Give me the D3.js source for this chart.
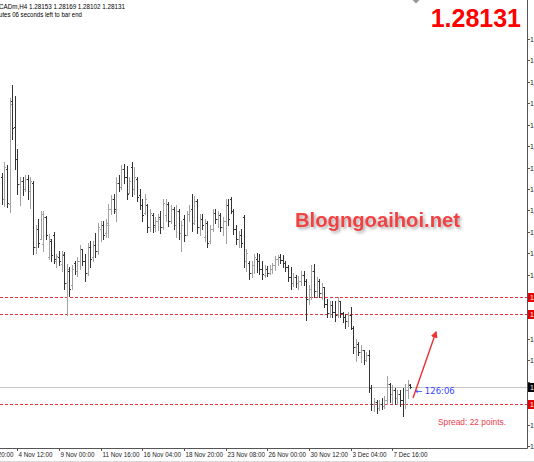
<!DOCTYPE html>
<html>
<head>
<meta charset="utf-8">
<script src="https://cdn.jsdelivr.net/npm/d3@7"></script>
<style>
  html, body { margin: 0; padding: 0; background: #fff; overflow: hidden; }
  svg { display: block; font-family: "Liberation Sans", Arial, sans-serif; }
</style>
</head>
<body>
<div id="chart"></div>
<script>
// H4 bars, oldest first (3 Nov 12:00 ... 8 Dec)
const opens = [
  1.3205, 1.3163, 1.3220, 1.3154, 1.3347, 1.3298, 1.3238, 1.3191, 1.3197, 1.3182,
  1.3201, 1.3178, 1.3193, 1.3073, 1.3107, 1.3088, 1.3079, 1.3130, 1.3055, 1.3085,
  1.3096, 1.3047, 1.3055, 1.3041, 1.3058, 1.3006, 1.3028, 1.3002, 1.3043, 1.3028,
  1.3047, 1.3070, 1.3047, 1.3025, 1.3073, 1.3055, 1.3077, 1.3066, 1.3107, 1.3115,
  1.3100, 1.3115, 1.3145, 1.3163, 1.3141, 1.3193, 1.3186, 1.3220, 1.3205, 1.3175,
  1.3223, 1.3182, 1.3201, 1.3171, 1.3152, 1.3137, 1.3152, 1.3111, 1.3133, 1.3111,
  1.3122, 1.3130, 1.3111, 1.3133, 1.3154, 1.3122, 1.3145, 1.3115, 1.3141, 1.3100,
  1.3126, 1.3096, 1.3135, 1.3145, 1.3118, 1.3160, 1.3111, 1.3126, 1.3092, 1.3118,
  1.3085, 1.3107, 1.3137, 1.3126, 1.3133, 1.3111, 1.3122, 1.3152, 1.3163, 1.3141,
  1.3107, 1.3088, 1.3096, 1.3130, 1.3047, 1.3043, 1.3025, 1.3040, 1.3051, 1.3047,
  1.3032, 1.3021, 1.3032, 1.3025, 1.3032, 1.3040, 1.3051, 1.3055, 1.3049, 1.3043,
  1.3036, 1.3017, 1.3006, 1.3017, 1.3006, 1.3010, 1.3021, 1.3010, 1.2976, 1.2995,
  1.3028, 1.2991, 1.3010, 1.2987, 1.2998, 1.2968, 1.2950, 1.2965, 1.2953, 1.2946,
  1.2972, 1.2950, 1.2942, 1.2935, 1.2946, 1.2923, 1.2886, 1.2892, 1.2878, 1.2882,
  1.2863, 1.2871, 1.2811, 1.2781, 1.2785, 1.2773, 1.2781, 1.2777, 1.2788, 1.2818,
  1.2800, 1.2807, 1.2792, 1.2800, 1.2788, 1.2781, 1.2807, 1.28153
];
const highs = [
  1.3212, 1.3233, 1.3227, 1.3351, 1.3377, 1.3356, 1.3257, 1.3205, 1.3205, 1.3208,
  1.3208, 1.3205, 1.3197, 1.3115, 1.3126, 1.3141, 1.3141, 1.3131, 1.3098, 1.3088,
  1.3101, 1.3060, 1.3066, 1.3066, 1.3064, 1.3041, 1.3036, 1.3040, 1.3047, 1.3055,
  1.3077, 1.3070, 1.3060, 1.3081, 1.3085, 1.3085, 1.3100, 1.3118, 1.3122, 1.3122,
  1.3126, 1.3154, 1.3171, 1.3173, 1.3205, 1.3208, 1.3227, 1.3229, 1.3225, 1.3205,
  1.3233, 1.3223, 1.3205, 1.3182, 1.3163, 1.3173, 1.3154, 1.3145, 1.3137, 1.3130,
  1.3135, 1.3141, 1.3163, 1.3163, 1.3158, 1.3152, 1.3148, 1.3152, 1.3145, 1.3122,
  1.3133, 1.3141, 1.3152, 1.3173, 1.3169, 1.3163, 1.3135, 1.3135, 1.3126, 1.3122,
  1.3115, 1.3145, 1.3145, 1.3141, 1.3137, 1.3130, 1.3163, 1.3163, 1.3167, 1.3145,
  1.3115, 1.3103, 1.3107, 1.3133, 1.3070, 1.3047, 1.3047, 1.3060, 1.3062, 1.3060,
  1.3047, 1.3040, 1.3038, 1.3040, 1.3043, 1.3056, 1.3058, 1.3060, 1.3058, 1.3047,
  1.3040, 1.3036, 1.3025, 1.3021, 1.3019, 1.3028, 1.3028, 1.3013, 1.3002, 1.3040,
  1.3041, 1.3017, 1.3013, 1.3006, 1.2998, 1.2976, 1.2972, 1.2972, 1.2972, 1.2980,
  1.2972, 1.2953, 1.2948, 1.2953, 1.2961, 1.2927, 1.2901, 1.2897, 1.2890, 1.2882,
  1.2878, 1.2882, 1.2815, 1.2792, 1.2788, 1.2788, 1.2792, 1.2796, 1.2833, 1.2820,
  1.2815, 1.2811, 1.2807, 1.2807, 1.2811, 1.2818, 1.2826, 1.28169
];
const lows = [
  1.3154, 1.3150, 1.3148, 1.3139, 1.3276, 1.3220, 1.3173, 1.3152, 1.3171, 1.3178,
  1.3163, 1.3146, 1.3060, 1.3062, 1.3073, 1.3088, 1.3066, 1.3088, 1.3051, 1.3047,
  1.3043, 1.3036, 1.3040, 1.3028, 1.2995, 1.2946, 1.2983, 1.2995, 1.3023, 1.3019,
  1.3032, 1.3040, 1.3010, 1.3021, 1.3036, 1.3047, 1.3055, 1.3060, 1.3085, 1.3088,
  1.3092, 1.3092, 1.3135, 1.3137, 1.3122, 1.3178, 1.3182, 1.3193, 1.3163, 1.3175,
  1.3169, 1.3173, 1.3160, 1.3145, 1.3122, 1.3135, 1.3101, 1.3103, 1.3101, 1.3103,
  1.3105, 1.3100, 1.3107, 1.3122, 1.3113, 1.3118, 1.3107, 1.3092, 1.3088, 1.3066,
  1.3085, 1.3096, 1.3122, 1.3103, 1.3116, 1.3100, 1.3096, 1.3107, 1.3085, 1.3073,
  1.3081, 1.3103, 1.3118, 1.3111, 1.3103, 1.3096, 1.3081, 1.3115, 1.3137, 1.3098,
  1.3079, 1.3073, 1.3073, 1.3036, 1.3028, 1.3013, 1.3017, 1.3025, 1.3026, 1.3023,
  1.3013, 1.3017, 1.3019, 1.3023, 1.3025, 1.3030, 1.3040, 1.3043, 1.3036, 1.3028,
  1.3010, 1.2995, 1.3000, 1.2998, 1.2995, 1.3002, 1.3002, 1.2938, 1.2968, 1.2976,
  1.2980, 1.2983, 1.2980, 1.2976, 1.2961, 1.2942, 1.2942, 1.2942, 1.2935, 1.2942,
  1.2942, 1.2933, 1.2923, 1.2927, 1.2920, 1.2875, 1.2860, 1.2871, 1.2858, 1.2856,
  1.2860, 1.2803, 1.2770, 1.2768, 1.2764, 1.2770, 1.2771, 1.2773, 1.2781, 1.2785,
  1.2783, 1.2781, 1.2781, 1.2777, 1.2758, 1.2773, 1.2792, 1.28102
];
const closes = [
  1.3163, 1.3223, 1.3156, 1.3341, 1.3295, 1.3238, 1.3191, 1.3197, 1.3182, 1.3201,
  1.3178, 1.3197, 1.3073, 1.3107, 1.3081, 1.3135, 1.3130, 1.3096, 1.3088, 1.3058,
  1.3051, 1.3056, 1.3047, 1.3060, 1.3006, 1.3032, 1.2995, 1.3032, 1.3028, 1.3047,
  1.3070, 1.3047, 1.3025, 1.3073, 1.3051, 1.3077, 1.3066, 1.3111, 1.3115, 1.3096,
  1.3118, 1.3145, 1.3163, 1.3145, 1.3193, 1.3186, 1.3220, 1.3205, 1.3173, 1.3197,
  1.3182, 1.3205, 1.3167, 1.3152, 1.3133, 1.3163, 1.3111, 1.3137, 1.3115, 1.3122,
  1.3126, 1.3111, 1.3156, 1.3154, 1.3122, 1.3145, 1.3115, 1.3141, 1.3100, 1.3115,
  1.3096, 1.3135, 1.3141, 1.3118, 1.3160, 1.3111, 1.3126, 1.3115, 1.3118, 1.3081,
  1.3107, 1.3137, 1.3126, 1.3133, 1.3111, 1.3122, 1.3152, 1.3126, 1.3141, 1.3107,
  1.3088, 1.3096, 1.3081, 1.3047, 1.3062, 1.3025, 1.3040, 1.3055, 1.3047, 1.3032,
  1.3023, 1.3032, 1.3025, 1.3032, 1.3040, 1.3051, 1.3055, 1.3049, 1.3043, 1.3036,
  1.3017, 1.3006, 1.3017, 1.3006, 1.3010, 1.3021, 1.3010, 1.2976, 1.2995, 1.3028,
  1.2991, 1.3010, 1.2987, 1.2998, 1.2968, 1.2950, 1.2965, 1.2953, 1.2946, 1.2972,
  1.2950, 1.2942, 1.2935, 1.2946, 1.2923, 1.2886, 1.2892, 1.2878, 1.2882, 1.2863,
  1.2871, 1.2811, 1.2781, 1.2785, 1.2773, 1.2781, 1.2777, 1.2788, 1.2818, 1.2800,
  1.2807, 1.2792, 1.2800, 1.2788, 1.2781, 1.2807, 1.2818, 1.28131
];

// time axis: bar index of each label
const timeTicks = [-10, 6, 22, 38, 54, 70, 86, 102, 118, 134, 150];
const timeLabels = ['30 Oct 20:00', '4 Nov 12:00', '9 Nov 00:00', '11 Nov 16:00', '16 Nov 04:00',
  '18 Nov 20:00', '23 Nov 08:00', '26 Nov 00:00', '30 Nov 12:00', '3 Dec 04:00', '7 Dec 16:00'];

const priceTicks = [1.2702, 1.2742, 1.2782, 1.2822, 1.2862, 1.2902, 1.2942, 1.2982, 1.3022, 1.3062,
  1.3102, 1.3142, 1.3182, 1.3222, 1.3262, 1.3302, 1.3342, 1.3382, 1.3422, 1.3462];

const levels = [1.2980, 1.2948, 1.2780];
const bid = 1.28131;

const W = 534;
const H = 462;
const plotRight = 527;
const plotBottom = 448;

const x = d3.scaleLinear().domain([0, closes.length - 1]).range([1.7, 410.4]);
const y = d3.scaleLinear().domain([1.2702, 1.3462]).range([446, 39]);

const svg = d3.select('#chart').append('svg')
  .attr('width', W)
  .attr('height', H);

const defs = svg.append('defs');
const shadow = defs.append('filter').attr('id', 'shadow')
  .attr('x', '-10%').attr('y', '-30%').attr('width', '130%').attr('height', '180%');
shadow.append('feDropShadow')
  .attr('dx', 2).attr('dy', 2).attr('stdDeviation', 1.4)
  .attr('flood-color', '#777').attr('flood-opacity', 0.6);

// header
svg.append('text')
  .attr('x', -1).attr('y', 8.5)
  .attr('font-size', 7).attr('fill', '#000')
  .attr('textLength', 126).attr('lengthAdjust', 'spacingAndGlyphs')
  .text('CADm,H4  1.28153 1.28169 1.28102 1.28131');
svg.append('text')
  .attr('x', -1).attr('y', 16.5)
  .attr('font-size', 7).attr('fill', '#000')
  .attr('textLength', 83).attr('lengthAdjust', 'spacingAndGlyphs')
  .text('utes 06 seconds left to bar end');

// chart shift marker
svg.append('path')
  .attr('d', 'M412.5,0 L419.5,0 L416,3.5 Z')
  .attr('fill', '#999');

// levels
svg.append('line')
  .attr('x1', 0).attr('x2', plotRight)
  .attr('y1', Math.round(y(bid)) + 0.5).attr('y2', Math.round(y(bid)) + 0.5)
  .attr('stroke', '#c6c6c6');

svg.selectAll('.level').data(levels).enter().append('line')
  .attr('class', 'level')
  .attr('x1', 0).attr('x2', plotRight)
  .attr('y1', (d) => Math.round(y(d)) + 0.5)
  .attr('y2', (d) => Math.round(y(d)) + 0.5)
  .attr('stroke', '#e8343c')
  .attr('stroke-dasharray', '3 2');

// bars
const bars = svg.append('g');
closes.forEach((c, i) => {
  const cx = Math.round(x(i));
  const yo = Math.round(y(opens[i])) + 0.5;
  const yc = Math.round(y(c)) + 0.5;
  const yh = Math.round(y(highs[i]));
  const yl = Math.round(y(lows[i])) + 1;
  bars.append('path')
    .attr('d', `M${cx + 0.5},${yh}V${yl}M${cx - 1},${yo}H${cx}M${cx + 1},${yc}H${cx + 2}`)
    .attr('stroke', c >= opens[i] ? '#a2a2a2' : '#333')
    .attr('fill', 'none');
});

// frame
svg.append('line')
  .attr('x1', plotRight + 0.5).attr('x2', plotRight + 0.5)
  .attr('y1', 0).attr('y2', plotBottom + 0.5)
  .attr('stroke', '#555');
svg.append('line')
  .attr('x1', 0).attr('x2', plotRight + 0.5)
  .attr('y1', plotBottom + 0.5).attr('y2', plotBottom + 0.5)
  .attr('stroke', '#555');
svg.append('line')
  .attr('x1', 0).attr('x2', W)
  .attr('y1', 461.5).attr('y2', 461.5)
  .attr('stroke', '#d8d8d8');

// price axis (labels hidden where a price tag covers them)
const tagged = levels.concat([bid]);
const yAxis = svg.append('g');
priceTicks.forEach((p) => {
  const py = Math.round(y(p)) + 0.5;
  yAxis.append('line')
    .attr('x1', plotRight).attr('x2', plotRight + 3)
    .attr('y1', py).attr('y2', py)
    .attr('stroke', '#555');
  if (tagged.some((t) => Math.abs(y(t) - py) < 9)) return;
  yAxis.append('text')
    .attr('x', 530).attr('y', py + 2.5)
    .attr('font-size', 7).attr('fill', '#222')
    .text(p.toFixed(5));
});

function priceTag(p, color) {
  const py = Math.round(y(p));
  yAxis.append('rect')
    .attr('x', plotRight + 1).attr('y', py - 4)
    .attr('width', 8).attr('height', 9)
    .attr('fill', color);
  yAxis.append('text')
    .attr('x', 530).attr('y', py + 3)
    .attr('font-size', 7).attr('fill', '#fff')
    .text(p.toFixed(5));
}
levels.forEach((p) => priceTag(p, '#e60000'));
priceTag(bid, '#000');

// time axis
const xAxis = svg.append('g');
timeTicks.forEach((t, i) => {
  const tx = Math.round(x(t)) + 0.5;
  xAxis.append('line')
    .attr('x1', tx).attr('x2', tx)
    .attr('y1', plotBottom).attr('y2', plotBottom + 3)
    .attr('stroke', '#555');
  xAxis.append('text')
    .attr('x', tx + 1).attr('y', 457)
    .attr('font-size', 6.3).attr('fill', '#222')
    .text(timeLabels[i]);
});

// current price
svg.append('text')
  .attr('x', 521).attr('y', 27)
  .attr('text-anchor', 'end')
  .attr('font-size', 25).attr('font-weight', 'bold')
  .attr('fill', '#ff0000')
  .text(bid.toFixed(5));

// watermark
svg.append('text')
  .attr('x', 295).attr('y', 227)
  .attr('font-size', 21).attr('font-weight', 'bold')
  .attr('fill', '#f04343')
  .attr('textLength', 165).attr('lengthAdjust', 'spacingAndGlyphs')
  .attr('filter', 'url(#shadow)')
  .text('Blogngoaihoi.net');

// bar timer
svg.append('text')
  .attr('x', 415).attr('y', 393.5)
  .attr('font-size', 8.5).attr('fill', '#3344ff')
  .attr('font-family', '"DejaVu Sans", sans-serif')
  .text('\u2190 126:06');

// spread
svg.append('text')
  .attr('x', 438).attr('y', 425)
  .attr('font-size', 8.5).attr('fill', '#ee3d4d')
  .attr('textLength', 68).attr('lengthAdjust', 'spacingAndGlyphs')
  .text('Spread: 22 points.');

// arrow
defs.append('marker').attr('id', 'head')
  .attr('viewBox', '0 0 10 10').attr('refX', 8).attr('refY', 5)
  .attr('markerWidth', 5).attr('markerHeight', 5)
  .attr('orient', 'auto')
  .append('path').attr('d', 'M0,0 L10,5 L0,10 Z').attr('fill', '#f03030');
svg.append('line')
  .attr('x1', 413).attr('y1', 398)
  .attr('x2', 436).attr('y2', 332)
  .attr('stroke', '#f03030').attr('stroke-width', 1.4)
  .attr('marker-end', 'url(#head)');
</script>
</body>
</html>
